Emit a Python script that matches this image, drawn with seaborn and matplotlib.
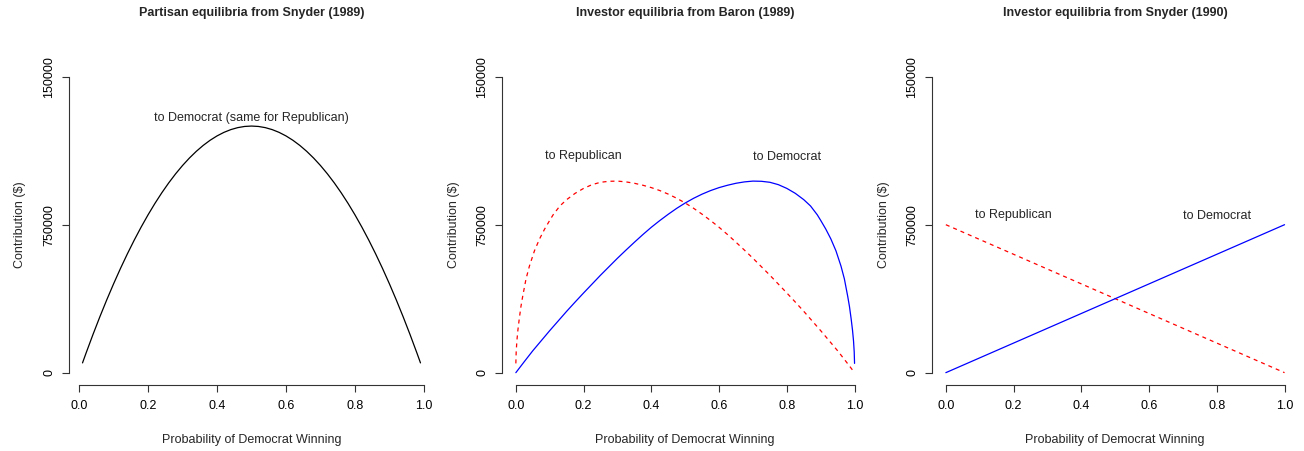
import matplotlib
matplotlib.use("Agg")
import matplotlib.pyplot as plt
import seaborn as sns
import pandas as pd

# ---- data -----------------------------------------------------------------
# Partisan equilibria (Snyder 1989): contribution to Democrat (same for Republican)
p_partisan = [0.01, 0.02, 0.04, 0.06, 0.08, 0.10, 0.12, 0.14, 0.16, 0.18, 0.20,
              0.22, 0.24, 0.26, 0.28, 0.30, 0.32, 0.34, 0.36, 0.38, 0.40, 0.42,
              0.44, 0.46, 0.48, 0.50, 0.52, 0.54, 0.56, 0.58, 0.60, 0.62, 0.64,
              0.66, 0.68, 0.70, 0.72, 0.74, 0.76, 0.78, 0.80, 0.82, 0.84, 0.86,
              0.88, 0.90, 0.92, 0.94, 0.96, 0.98, 0.99]
partisan = [49500, 98000, 192000, 282000, 368000, 450000, 528000, 602000,
            672000, 738000, 800000, 858000, 912000, 962000, 1008000, 1050000,
            1088000, 1122000, 1152000, 1178000, 1200000, 1218000, 1232000,
            1242000, 1248000, 1250000, 1248000, 1242000, 1232000, 1218000,
            1200000, 1178000, 1152000, 1122000, 1088000, 1050000, 1008000,
            962000, 912000, 858000, 800000, 738000, 672000, 602000, 528000,
            450000, 368000, 282000, 192000, 98000, 49500]

# Investor equilibria (Baron 1989)
p_baron_dem = [0.000, 0.025, 0.050, 0.075, 0.100, 0.125, 0.150, 0.175, 0.200,
               0.225, 0.250, 0.275, 0.300, 0.325, 0.350, 0.375, 0.400, 0.425,
               0.450, 0.475, 0.500, 0.525, 0.550, 0.575, 0.600, 0.625, 0.650,
               0.675, 0.700, 0.725, 0.750, 0.775, 0.800, 0.825, 0.850, 0.870,
               0.890, 0.900, 0.915, 0.930, 0.945, 0.960, 0.970, 0.980, 0.985,
               0.990, 0.994, 0.997, 0.999, 1.000]
baron_dem = [0, 56000, 111000, 162000, 213000, 262000, 311000, 358000, 404000,
             449000, 494000, 537000, 580000, 621000, 661000, 700000, 737000,
             771000, 803000, 833000, 860000, 884000, 905000, 923000, 938000,
             950000, 960000, 967000, 971000, 970000, 965000, 953000, 934000,
             909000, 877000, 845000, 800000, 772000, 728000, 678000, 618000,
             540000, 475000, 385000, 335000, 272000, 215000, 160000, 105000,
             47000]
p_baron_rep = [0.000, 0.001, 0.003, 0.006, 0.010, 0.015, 0.020, 0.030, 0.040,
               0.055, 0.070, 0.085, 0.100, 0.110, 0.130, 0.150, 0.175, 0.200,
               0.225, 0.250, 0.275, 0.300, 0.325, 0.350, 0.375, 0.400, 0.425,
               0.450, 0.475, 0.500, 0.525, 0.550, 0.575, 0.600, 0.625, 0.650,
               0.675, 0.700, 0.725, 0.750, 0.775, 0.800, 0.825, 0.850, 0.875,
               0.900, 0.925, 0.950, 0.975, 1.000]
baron_rep = [47000, 105000, 160000, 215000, 272000, 335000, 385000, 475000,
             540000, 618000, 678000, 728000, 772000, 800000, 845000, 877000,
             909000, 934000, 953000, 965000, 970000, 971000, 967000, 960000,
             950000, 938000, 923000, 905000, 884000, 860000, 833000, 803000,
             771000, 737000, 700000, 661000, 621000, 580000, 537000, 494000,
             449000, 404000, 358000, 311000, 262000, 213000, 162000, 111000,
             56000, 0]

# Investor equilibria (Snyder 1990)
p_snyder90 = [0.0, 1.0]
snyder90_dem = [0, 750000]
snyder90_rep = [750000, 0]

titles = ["Partisan equilibria from Snyder (1989)",
          "Investor equilibria from Baron (1989)",
          "Investor equilibria from Snyder (1990)"]
x_ticks = [0.0, 0.2, 0.4, 0.6, 0.8, 1.0]
x_tick_labels = ["0.0", "0.2", "0.4", "0.6", "0.8", "1.0"]
y_ticks = [0, 750000, 1500000]
y_tick_labels = ["0", "750000", "150000"]
x_label = "Probability of Democrat Winning"
y_label = "Contribution ($)"

# ---- style ------------------------------------------------------------------
sns.set_theme(style="white")
plt.rcParams["font.family"] = ["Liberation Sans", "DejaVu Sans"]
plt.rcParams["font.size"] = 9
AX_COL = "#333333"
DASH = (0, (3.2, 3.2))
LW = 0.9

fig = plt.figure(figsize=(13.04, 4.51), dpi=100)
W, H = 1304.0, 451.0
bottom = (H - 384.5) / H
height = 319.6 / H
lefts = [69.0, 502.3, 932.3]
widths = [365.0, 365.8, 365.8]
xlims = [(-0.0292, 1.0292), (-0.04, 1.04), (-0.04, 1.04)]

axes = [fig.add_axes([l / W, bottom, w / W, height]) for l, w in zip(lefts, widths)]

# panel 1
df1 = pd.DataFrame({"p": p_partisan, "v": partisan})
sns.lineplot(data=df1, x="p", y="v", ax=axes[0], color="black", lw=LW, sort=False)
axes[0].text(0.5, 1290000, "to Democrat (same for Republican)",
             ha="center", va="center", fontsize=9)

# panel 2
df2d = pd.DataFrame({"p": p_baron_dem, "v": baron_dem})
df2r = pd.DataFrame({"p": p_baron_rep, "v": baron_rep})
sns.lineplot(data=df2r, x="p", y="v", ax=axes[1], color="red", lw=LW,
             linestyle=DASH, sort=False)
sns.lineplot(data=df2d, x="p", y="v", ax=axes[1], color="blue", lw=LW, sort=False)
axes[1].text(0.2, 1100000, "to Republican", ha="center", va="center", fontsize=9)
axes[1].text(0.8, 1095000, "to Democrat", ha="center", va="center", fontsize=9)

# panel 3
df3 = pd.DataFrame({"p": p_snyder90, "dem": snyder90_dem, "rep": snyder90_rep})
sns.lineplot(data=df3, x="p", y="rep", ax=axes[2], color="red", lw=LW,
             linestyle=DASH, sort=False)
sns.lineplot(data=df3, x="p", y="dem", ax=axes[2], color="blue", lw=LW, sort=False)
axes[2].text(0.2, 800000, "to Republican", ha="center", va="center", fontsize=9)
axes[2].text(0.8, 795000, "to Democrat", ha="center", va="center", fontsize=9)

for ax, xl in zip(axes, xlims):
    ax.set_facecolor("white")
    ax.set_xlim(*xl)
    ax.set_ylim(-60000, 1560000)
    for s in ["top", "right"]:
        ax.spines[s].set_visible(False)
    for s in ["left", "bottom"]:
        ax.spines[s].set_color(AX_COL)
        ax.spines[s].set_linewidth(0.8)
    ax.spines["left"].set_bounds(0, 1500000)
    ax.spines["bottom"].set_bounds(0, 1)
    ax.set_xticks(x_ticks)
    ax.set_xticklabels(x_tick_labels)
    ax.set_yticks(y_ticks)
    ax.set_yticklabels(y_tick_labels, rotation=90, va="center")
    ax.tick_params(axis="both", which="major", direction="out", length=5,
                   width=0.8, color=AX_COL, labelsize=9, labelcolor="black",
                   left=True, bottom=True)
    ax.tick_params(axis="x", pad=6)
    ax.tick_params(axis="y", pad=5)
    ax.set_xlabel(x_label, fontsize=9, labelpad=16)
    ax.set_ylabel(y_label, fontsize=9, labelpad=12)
    ax.grid(False)

# bold titles centred over each plot region, near the top edge
for title, l, w in zip(titles, lefts, widths):
    fig.text((l + w / 2) / W, 1 - 13.0 / H, title, ha="center",
             va="center", fontsize=9, fontweight="bold")

fig.savefig("out.png", dpi=100, facecolor="white")
